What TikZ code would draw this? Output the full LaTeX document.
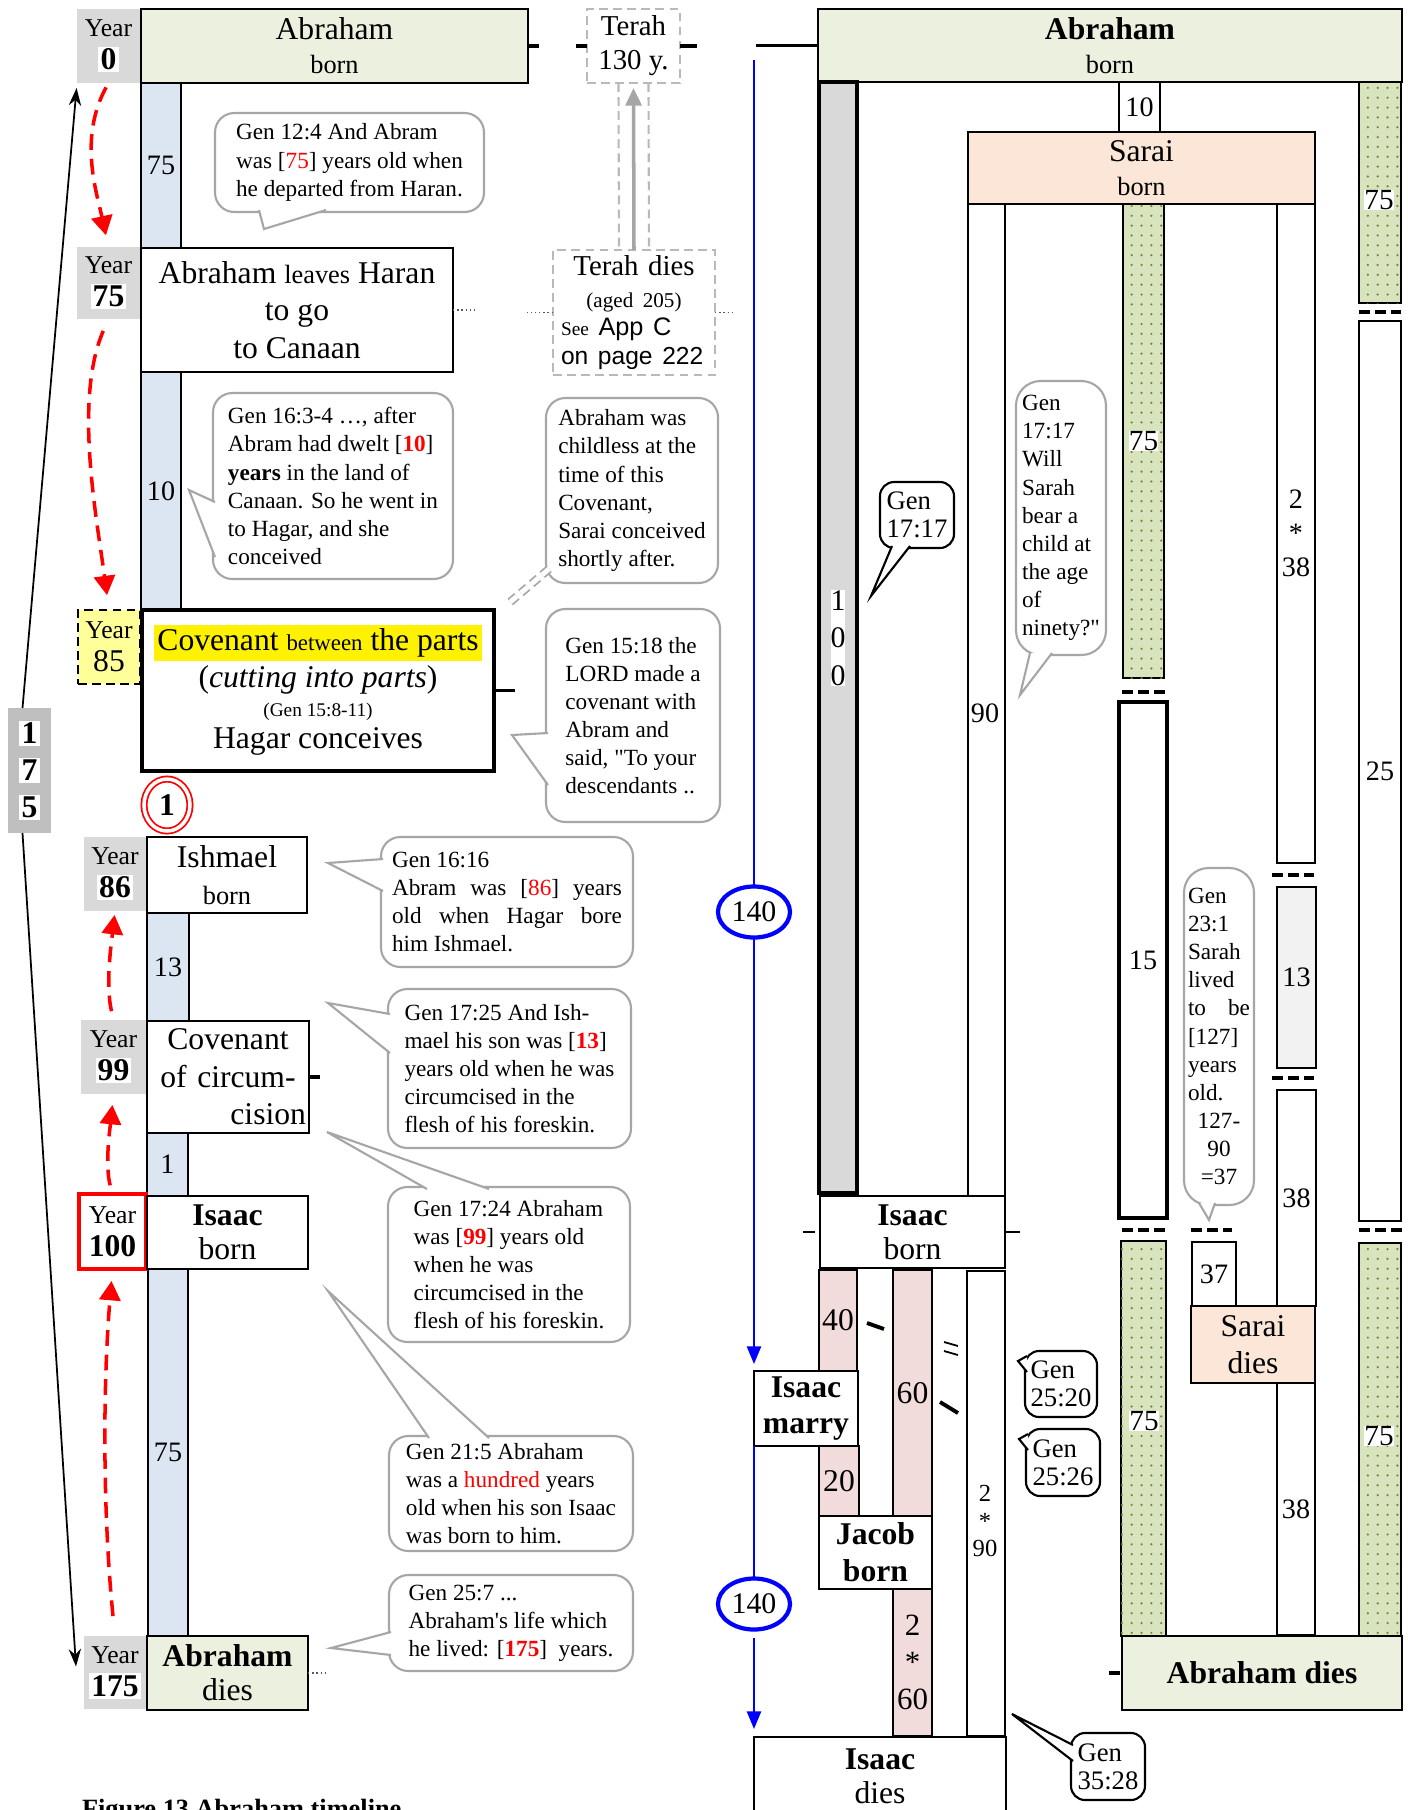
\documentclass[tikz,border=0pt]{standalone}
\usepackage{fontspec}
\setmainfont{Liberation Serif}[Ligatures=TeXOff]
\newfontfamily\arialfont{Liberation Sans}
\usetikzlibrary{arrows.meta, calc, shapes.geometric, patterns.meta}

\definecolor{abgreen}{HTML}{EBF1DE}
\definecolor{colblue}{HTML}{DCE6F2}
\definecolor{yeargray}{HTML}{D9D9D9}
\definecolor{sumgray}{HTML}{BFBFBF}
\definecolor{sarpeach}{HTML}{FCE6D8}
\definecolor{isapink}{HTML}{F2DCDB}
\definecolor{dotgreen}{HTML}{D7E4BD}
\definecolor{paleyel}{HTML}{FFFF99}
\definecolor{callgray}{HTML}{A6A6A6}
\definecolor{pale13}{HTML}{F2F2F2}

\newcommand{\fsz}[2]{\fontsize{#1}{#2}\selectfont}
\newcommand{\wbg}[1]{{\fboxsep=0.6pt\colorbox{white}{#1}}}
% callout tail: base, tip, base
\newcommand{\calltail}[4][callgray]{%
  \fill[white] #2 -- #3 -- #4 -- cycle;
  \draw[#1, line width=0.6pt] #2 -- #3 -- #4;}

\begin{document}
\begin{tikzpicture}[
    x=0.1mm, y=-0.1mm,
    every node/.style={inner sep=0pt, outer sep=0pt},
    corners/.style args={#1/#2/#3/#4}{at={({(#1+#3)/2},{(#2+#4)/2})},
        minimum width={(#3-#1)*0.1mm}, minimum height={(#4-#2)*0.1mm}},
    evbox/.style={draw, line width=0.6pt, fill=white, align=center, font=\fsz{9}{10.7}},
    yearbox/.style={fill=yeargray, align=center, font=\fsz{7.3}{9.4}},
    bcol/.style={draw, line width=0.6pt, fill=colblue, font=\fsz{8}{9}},
    rcol/.style={draw, line width=0.6pt, fill=white, font=\fsz{8}{9}},
    gcol/.style={draw, line width=0.6pt, fill=dotgreen,
        postaction={pattern={Dots[distance=2.8pt, radius=0.35pt]}, pattern color=gray!70!olive}},
    wlbl/.style={fill=white, font=\fsz{8.3}{9}},
    tbox/.style={draw=gray!55, line width=0.6pt, dash pattern=on 2.5pt off 1.5pt, fill=white, align=center, font=\fsz{8.2}{9.7}},
    call/.style={draw=callgray, line width=0.6pt, fill=white, rounded corners=5.5pt, align=left, font=\fsz{6.6}{8}},
    bcall/.style={call, draw=black, rounded corners=4pt, font=\fsz{7.6}{8}},
    redarr/.style={red, line width=1pt, dash pattern=on 4.5pt off 2.5pt, -{Triangle[width=6pt, length=5.5pt]}},
    bluearr/.style={blue, line width=0.6pt, -{Triangle[width=4pt, length=5pt]}},
    blkarr/.style={line width=0.5pt, -{Stealth[width=3.5pt, length=5pt]}},
    stub/.style={line width=1.1pt},
    dotln/.style={gray!70!black, line width=0.4pt, dash pattern=on 0.4pt off 0.8pt},
    brk/.style={line width=0.9pt, dash pattern=on 3.2pt off 1.4pt},
    slashmk/.style={line width=1.1pt}
]
\fill[white] (0,0) rectangle (1408,1810);
\useasboundingbox (0,0) rectangle (1408,1810);

% --- Left timeline: blue year columns ---
\node[bcol, corners=141/83/181/248] (b75a) {75};
\node[bcol, corners=141/372/181/610] (b10) {10};
\node[bcol, corners=147/913/189/1021] (b13) {13};
\node[bcol, corners=147/1133/188/1196] (b1) {1};
\node[bcol, corners=148/1269/188/1636] (b75b) {75};

% --- Year markers ---
\node[yearbox, corners=77/9/140/83] (y0) {Year\\ {\fsz{9}{10}\wbg{\textbf{0}}}};
\node[yearbox, corners=77/247/140/319] (y75) {Year\\ {\fsz{9}{10}\wbg{\textbf{75}}}};
\node[yearbox, fill=paleyel, draw, line width=0.7pt, dash pattern=on 2.5pt off 1.5pt, corners=78/610/140/684] (y85) {Year\\ {\fsz{9}{10}85}};
\node[yearbox, corners=84/837/146/911] (y86) {Year\\ {\fsz{9}{10}\wbg{\textbf{86}}}};
\node[yearbox, corners=81/1020/146/1094] (y99) {Year\\ {\fsz{9}{10}\wbg{\textbf{99}}}};
\node[yearbox, fill=white, draw=red, line width=1pt, corners=79/1194/146/1269] (y100) {Year\\ {\fsz{9}{10}\textbf{100}}};
\node[yearbox, corners=84/1636/146/1709] (y175) {Year\\ {\fsz{9}{10}\wbg{\textbf{175}}}};
\node[fill=sumgray, align=center, font=\fsz{9}{10.5}\bfseries, corners=8/708/51/833] (n175) {\wbg{1}\\ \wbg{7}\\ \wbg{5}};

% --- Left timeline: events ---
\node[evbox, fill=abgreen, corners=141/9/528/83] (abBorn) {Abraham\\[-1pt] {\fsz{7.5}{9}born}};
\node[evbox, corners=141/248/453/372] (leaves) {Abraham {\fsz{7.5}{9}leaves} Haran\\ to go\\ to Canaan};
\node[evbox, line width=1.2pt, corners=142/610/494/771] (cov) {{\fboxsep=1pt\colorbox{yellow}{Covenant {\fsz{6.5}{8}between} the parts}}\\[-0.4pt] (\textit{cutting into parts})\\[-2.4pt] {\fsz{5.5}{7}(Gen 15:8-11)}\\[-1.4pt] Hagar conceives};
\node[evbox, corners=147/837/307/913] (ishm) {Ishmael\\ {\fsz{7.5}{9}born}};
\node[evbox, text width=15.6mm, corners=147/1021/309/1133] (circ) {Covenant\\ of circum-\\ \hfill cision};
\node[evbox, corners=147/1196/308/1269] (isaac) {\textbf{Isaac}\\[-1pt] born};
\node[evbox, fill=abgreen, corners=147/1636/308/1710] (abDies) {\textbf{Abraham}\\[-1pt] dies};
\node[ellipse, draw=red, double, double distance=1pt, line width=0.5pt, minimum width=4.6mm, minimum height=5.2mm, font=\fsz{9}{10}\bfseries] (one) at (167,805) {1};

% --- Terah ---
\node[tbox, corners=587/9/680/83] (terah) {Terah\\ 130 y.};
\node[tbox, align=left, text width=14.6mm, font=\fsz{8.2}{8.1}, corners=553/250/715/375] (terahD) {\hfill Terah dies\hfill\mbox{}\\[1pt] {\fsz{6}{7}\hfill(aged 205)\hfill\mbox{}}\\ {\fsz{5.5}{7}See} {\arialfont\fsz{7.2}{8}App C}\\ {\arialfont\fsz{7}{8}on page 222}};
\draw[gray!70, line width=1pt, -{Triangle[width=4.5pt, length=5pt]}, shorten >=0.5mm] (terahD.north) -- (terah.south);
\draw[gray!55, line width=0.6pt, dash pattern=on 2.5pt off 1.5pt] ($(terah.south)+(-15,0)$) -- ($(terahD.north)+(-15,0)$);
\draw[gray!55, line width=0.6pt, dash pattern=on 2.5pt off 1.5pt] ($(terah.south)+(15,0)$) -- ($(terahD.north)+(15,0)$);

% --- Stubs and dotted links ---
\draw[stub] (abBorn.east) -- ++(11,0);
\draw[stub] (terah.west) -- ++(-11,0);
\draw[stub] (terah.east) -- ++(17,0);
\draw[dotln] (leaves.east) -- ++(22,0);
\draw[dotln] (terahD.west) -- ++(-26,0);
\draw[dotln] (terahD.east) -- ++(20,0);
\draw[line width=0.8pt] (cov.east) -- ++(21,0);
\draw[stub] (circ.east) -- ++(11,0);
\draw[dotln] (abDies.east) -- ++(21,0);

% --- Year arrows ---
\draw[blkarr, shorten >=0.5mm] ($(n175.north)+(-7,0)$) -- (y0.south west);
\draw[blkarr] ($(n175.south)+(-7,0)$) -- ($(y175.west)+(-8,-6)$);
\draw[redarr, shorten <=0.5mm, shorten >=1.2mm] (y0.south) .. controls +(-30,55) and +(-12,-55) .. (y75.north);
\draw[redarr, shorten <=1.3mm, shorten >=1.5mm] (y75.south) .. controls +(-35,80) and +(-12,-90) .. (y85.north);
\draw[redarr, shorten <=0.9mm, shorten >=0.4mm] (y99.north) .. controls +(-8,-35) and +(-4,35) .. (y86.south);
\draw[redarr, shorten <=0.9mm, shorten >=1.1mm] (y100.north) .. controls +(-8,-30) and +(-3,30) .. (y99.south);
\draw[redarr, shorten <=2mm, shorten >=1.2mm] (y175.north) .. controls +(-12,-120) and +(-10,120) .. (y100.south);

% --- Left callouts ---
\node[call, corners=215/113/484/212] (c124) {Gen 12:4 And Abram\\ was [\textcolor{red}{75}] years old when\\ he departed from Haran.};
\calltail{(259,210)}{(264,229)}{(326,210)}
\node[call, corners=213/393/453/579] (c163) {Gen 16:3-4 …, after\\ Abram had dwelt [\textcolor{red}{\textbf{10}}]\\ \textbf{years} in the land of\\ Canaan. So he went in\\ to Hagar, and she\\ conceived};
\calltail{(215,502)}{(189,490)}{(215,557)}
\node[call, corners=546/398/718/583] (cchild) {Abraham was\\ childless at the\\ time of this\\ Covenant,\\ Sarai conceived\\ shortly after.};
\draw[callgray, line width=0.5pt, dash pattern=on 2.5pt off 1.5pt, double=white, double distance=1.4pt] ($(cchild.south west)+(3,-14)$) -- ($(cov.north east)+(15,-7)$);
\node[call, corners=546/609/720/822] (c1518) {Gen 15:18 the\\ LORD made a\\ covenant with\\ Abram and\\ said, "To your\\ descendants ..};
\calltail{(548,733)}{(512,735)}{(548,785)}
\node[call, text width=23mm, align=justify, corners=381/837/633/967] (c1616) {Gen 16:16\newline Abram was [\textcolor{red}{86}] years\linebreak old when Hagar bore\linebreak him Ishmael.};
\calltail{(383,859)}{(328,863)}{(383,891)}
\node[call, corners=388/989/631/1148] (c1725) {Gen 17:25 And Ish-\\ mael his son was [\textcolor{red}{\textbf{13}}]\\ years old when he was\\ circumcised in the\\ flesh of his foreskin.};
\calltail{(390,1014)}{(328,1003)}{(390,1053)}
\node[call, corners=388/1187/630/1342] (c1724) {Gen 17:24 Abraham\\ was [\textcolor{red}{\textbf{99}}] years old\\ when he was\\ circumcised in the\\ flesh of his foreskin.};
\calltail{(427,1189)}{(327,1132)}{(489,1189)}
\node[call, corners=389/1436/633/1551] (c215) {Gen 21:5 Abraham\\ was a \textcolor{red}{hundred} years\\ old when his son Isaac\\ was born to him.};
\calltail{(429,1438)}{(328,1291)}{(489,1438)}
\node[call, corners=389/1575/633/1671] (c257) {Gen 25:7 ...\\ Abraham's life which\\ he lived: [\textcolor{red}{\textbf{175}}]~ years.};
\calltail{(391,1632)}{(331,1648)}{(391,1655)}

% --- Right timeline: Abraham and Sarai ---
\node[rcol, fill=abgreen, align=center, font=\fsz{9}{10.7}, corners=818/9/1402/82] (abBorn2) {\textbf{Abraham}\\[-1pt] {\fsz{7.5}{9}born}};
\draw[line width=0.6pt] (abBorn2.west) -- ++(-62,0);
\node[rcol, fill=yeargray, line width=1.1pt, corners=819/82/857/1193] (g100) {};
\node[fill=white, align=center, font=\fsz{8.5}{10.7}] (l100) at (838,638) {1\\0\\0};
\node[rcol, corners=1119/82/1160/133] (b10r) {10};
\node[rcol, fill=sarpeach, align=center, font=\fsz{9}{10.7}, corners=968/132/1315/204] (sarai) {Sarai\\[-1pt] {\fsz{7.5}{9}born}};
\node[rcol, corners=968/204/1005/1196] (c90) {};
\node[font=\fsz{8}{9}] (l90) at (985,713) {90};
\node[gcol, corners=1123/204/1164/678] (gA) {};
\node[wlbl] (lgA) at (gA.center) {75};
\node[rcol, align=center, font=\fsz{8}{9.7}, corners=1277/204/1315/863] (c238) {2\\ {*}\\ 38};
\node[gcol, corners=1359/82/1401/303] (gB) {};
\node[wlbl] (lgB) at (1379,200) {75};
\node[rcol, corners=1359/321/1401/1221] (c25) {25};
\node[rcol, line width=1.2pt, corners=1119/702/1167/1218] (c15) {15};
\node[rcol, fill=pale13, corners=1277/887/1316/1068] (c13r) {13};
\node[rcol, corners=1277/1090/1316/1306] (c38a) {38};
\node[gcol, corners=1121/1241/1166/1636] (gC) {};
\node[wlbl] (lgC) at (1144,1421) {75};
\node[rcol, corners=1192/1242/1236/1306] (c37) {37};
\node[rcol, fill=sarpeach, align=center, font=\fsz{9}{10.7}, corners=1191/1306/1315/1383] (saraiD) {Sarai\\ dies};
\node[rcol, corners=1277/1383/1315/1635] (c38b) {38};
\node[gcol, corners=1359/1243/1401/1636] (gD) {};
\node[wlbl] (lgD) at (1379,1436) {75};
\node[rcol, fill=abgreen, font=\fsz{9}{10.7}\bfseries, corners=1122/1636/1402/1710] (abDies2) {Abraham dies};
\draw[stub] ($(abDies2.west)+(-2,0)$) -- ++(-11,0);

% --- Column breaks ---
\draw[brk] (1359,312) -- (1401,312);
\draw[brk] (1122,692) -- (1165,692);
\draw[brk] (1272,875) -- (1314,875);
\draw[brk] (1272,1078) -- (1314,1078);
\draw[brk] (1122,1230) -- (1165,1230);
\draw[brk] (1191,1230) -- (1232,1230);
\draw[brk] (1359,1230) -- (1402,1230);

% --- Right timeline: Isaac ---
\node[rcol, align=center, font=\fsz{9}{10.7}, corners=820/1196/1005/1268] (isaacB) {\textbf{Isaac}\\[-1pt] born};
\draw[line width=0.6pt] ($(isaacB.west)+(-5,0)$) -- ++(-12,0);
\draw[line width=0.6pt] (isaacB.east) -- ++(15,0);
\node[rcol, fill=isapink, font=\fsz{9}{10}, corners=819/1270/857/1371] (p40) {40};
\node[rcol, fill=isapink, font=\fsz{9}{10}, corners=819/1446/859/1516] (p20) {20};
\node[rcol, fill=isapink, font=\fsz{9}{10}, corners=893/1270/932/1516] (p60) {60};
\node[rcol, corners=967/1271/1005/1736] (c290) {};
\node[align=center, font=\fsz{7}{7.8}] (l290) at (985,1521) {2\\ {*}\\ 90};
\node[rcol, fill=isapink, align=center, font=\fsz{8.8}{10.5}, corners=893/1589/932/1736] (p260) {2\\ {*}\\ 60};
\node[rcol, align=center, font=\fsz{9}{10.3}\bfseries, corners=754/1371/858/1446] (marry) {Isaac\\ marry};
\node[rcol, align=center, font=\fsz{9}{10.5}\bfseries, corners=819/1516/932/1589] (jacob) {Jacob\\ born};
\node[rcol, align=center, font=\fsz{9}{10.7}, corners=754/1737/1006/1815] (isaacD) {\textbf{Isaac}\\[-1pt] dies};
\draw[slashmk] (867,1323) -- (884,1329);
\draw[line width=0.5pt] (944,1342) -- (958,1346) (944,1351) -- (958,1355);
\draw[slashmk] (940,1402) -- (958,1413);

% --- 140-year spans ---
\coordinate (btop) at (754,60);
\node[ellipse, draw=blue, line width=1.2pt, fill=white, minimum width=7.2mm, minimum height=5.1mm, font=\fsz{8.5}{10}] (e140a) at (754,912) {140};
\node[ellipse, draw=blue, line width=1.2pt, fill=white, minimum width=7.2mm, minimum height=5.1mm, font=\fsz{8.5}{10}] (e140b) at (754,1604) {140};
\draw[bluearr, shorten >=0.7mm] (btop) -- (e140a) -- (marry.north west);
\draw[bluearr, shorten <=0.8mm, shorten >=0.8mm] (marry.south west) -- (e140b) -- (isaacD.north west);

% --- Right callouts ---
\node[call, rounded corners=7pt, corners=1016/381/1106/655] (c1717w) {Gen\\ 17:17\\ Will\\ Sarah\\ bear a\\ child at\\ the age\\ of\\ ninety?"};
\calltail{(1030,653)}{(1020,695)}{(1052,653)}
\node[bcall, corners=880/482/954/548] (c1717s) {Gen\\ 17:17};
\calltail[black]{(892,546)}{(871,596)}{(910,546)}
\node[call, text width=6.2mm, rounded corners=7pt, corners=1184/868/1254/1205] (c231) {Gen\\ 23:1\\ Sarah\\ lived\\ to\hfill be\\ {[127]}\\ years\\ old.\\ \hfill127-\hfill\mbox{}\\ \hfill90\hfill\mbox{}\\ \hfill=37\hfill\mbox{}};
\calltail{(1199,1203)}{(1209,1220)}{(1215,1203)}
\node[bcall, corners=1025/1351/1097/1417] (c2520) {Gen\\ 25:20};
\calltail[black]{(1027,1356)}{(1018,1361)}{(1027,1372)}
\node[bcall, corners=1026/1429/1100/1496] (c2526) {Gen\\ 25:26};
\calltail[black]{(1028,1434)}{(1019,1439)}{(1028,1450)}
\node[bcall, corners=1071/1733/1145/1800] (c3528) {Gen\\ 35:28};
\calltail[black]{(1073,1745)}{(1012,1714)}{(1073,1761)}

% --- Caption (cut by the page edge) ---
\node[anchor=base west, font=\fsz{7.5}{9}\bfseries] (cap) at (82,1817) {Figure 13 Abraham timeline};

\end{tikzpicture}
\end{document}
